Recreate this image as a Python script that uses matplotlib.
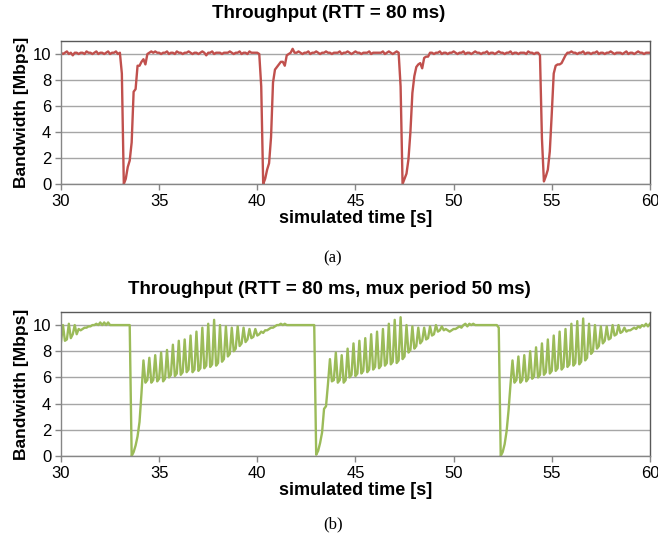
"""
plot.py - Throughput of the two RTT = 80 ms runs, (a) plain and (b) with mux period
"""

import matplotlib.pyplot as plt
import numpy as np

# Sample spacing of both traces, starting at 30 s
t_start = 30.0
t_step = 0.1

# (a) throughput in Mbps, one row per second (30.0 .. 59.9) plus the 60.0 point
bw_plain = [
    10.1, 10.0, 10.1, 10.2, 10.0, 10.1, 9.9, 10.1, 10.1, 10.0,
    10.1, 10.1, 10.0, 10.2, 10.1, 10.1, 10.0, 10.1, 10.2, 10.0,
    10.1, 10.1, 10.0, 10.1, 10.2, 10.0, 10.1, 10.1, 10.2, 10.0,
    10.1, 8.5, 0.0, 0.4, 1.3, 1.8, 3.2, 7.1, 7.3, 9.1,
    9.1, 9.4, 9.6, 9.2, 10.0, 10.1, 10.2, 10.1, 10.2, 10.1,
    10.1, 10.0, 10.1, 10.1, 10.2, 10.0, 10.1, 10.1, 10.0, 10.2,
    10.1, 10.1, 10.0, 10.1, 10.1, 10.2, 10.1, 10.0, 10.1, 10.1,
    10.0, 10.1, 10.2, 10.1, 9.9, 10.1, 10.1, 10.2, 10.0, 10.1,
    10.1, 10.1, 10.0, 10.1, 10.1, 10.1, 10.2, 10.1, 10.0, 10.1,
    10.1, 10.2, 10.0, 10.1, 10.1, 10.0, 10.2, 10.1, 10.1, 10.1,
    10.1, 10.0, 7.5, 0.0, 0.4, 1.1, 1.6, 3.6, 7.8, 8.8,
    9.0, 9.2, 9.4, 9.4, 9.1, 9.9, 10.0, 10.1, 10.4, 10.1,
    10.1, 10.2, 10.1, 10.0, 10.1, 10.1, 10.2, 10.0, 10.1, 10.1,
    10.2, 10.1, 10.0, 10.1, 10.1, 10.2, 10.1, 10.1, 10.0, 10.1,
    10.1, 10.1, 10.2, 10.0, 10.1, 10.1, 10.2, 10.1, 10.0, 10.1,
    10.2, 10.1, 10.1, 10.0, 10.1, 10.1, 10.1, 10.2, 10.0, 10.1,
    10.1, 10.1, 10.1, 10.1, 10.2, 10.0, 10.1, 10.2, 10.1, 10.0,
    10.1, 10.2, 10.1, 7.5, 0.0, 0.4, 0.8, 1.9, 4.0, 7.0,
    8.3, 9.0, 9.2, 9.3, 8.9, 9.7, 9.8, 9.8, 10.1, 10.1,
    10.0, 10.1, 10.1, 10.2, 10.0, 10.1, 10.1, 10.0, 10.1, 10.1,
    10.2, 10.1, 10.0, 10.1, 10.1, 10.2, 10.0, 10.1, 10.1, 10.0,
    10.1, 10.2, 10.1, 10.1, 10.0, 10.1, 10.1, 10.2, 10.0, 10.1,
    10.1, 10.0, 10.1, 10.2, 10.1, 10.1, 10.0, 10.1, 10.1, 10.2,
    10.0, 10.1, 10.1, 10.0, 10.1, 10.1, 10.1, 10.0, 10.2, 10.1,
    10.1, 10.0, 10.1, 10.1, 9.9, 3.5, 0.2, 0.6, 1.1, 2.5,
    5.4, 8.5, 9.1, 9.2, 9.2, 9.3, 9.6, 9.9, 10.1, 10.1,
    10.2, 10.1, 10.1, 10.0, 10.1, 10.1, 10.2, 10.0, 10.1, 10.1,
    10.0, 10.1, 10.1, 10.2, 10.0, 10.1, 10.1, 10.0, 10.1, 10.1,
    10.2, 10.1, 10.0, 10.1, 10.1, 10.1, 10.0, 10.1, 10.2, 10.0,
    10.1, 10.1, 10.0, 10.1, 10.2, 10.1, 10.1, 10.0, 10.1, 10.1,
    10.1,
]

# (b) throughput in Mbps with mux period 50 ms, same layout
bw_mux = [
    8.7, 10.0, 8.8, 8.9, 10.1, 9.0, 9.3, 10.0, 9.3, 9.7,
    9.6, 9.7, 9.8, 9.8, 9.9, 9.9, 10.0, 10.0, 10.1, 10.0,
    10.2, 10.0, 10.2, 10.0, 10.2, 10.0, 10.0, 10.0, 10.0, 10.0,
    10.0, 10.0, 10.0, 10.0, 10.0, 10.0, 0.0, 0.3, 0.8, 1.5,
    2.6, 4.8, 7.3, 5.6, 5.8, 7.5, 5.6, 5.8, 7.7, 5.7,
    5.9, 7.9, 5.7, 5.9, 8.1, 6.0, 6.2, 8.5, 6.1, 6.3,
    8.8, 6.2, 6.4, 8.9, 6.4, 6.6, 9.2, 6.4, 6.6, 9.5,
    6.5, 6.7, 9.8, 6.7, 6.9, 10.1, 6.8, 7.0, 10.4, 6.9,
    7.1, 10.0, 7.2, 7.4, 9.9, 7.6, 7.8, 9.8, 8.0, 8.2,
    9.9, 8.4, 8.6, 9.8, 8.7, 8.9, 9.7, 9.0, 9.1, 9.7,
    9.2, 9.3, 9.5, 9.4, 9.6, 9.6, 9.7, 9.8, 9.8, 9.9,
    10.0, 10.0, 10.1, 10.0, 10.1, 10.0, 10.0, 10.0, 10.0, 10.0,
    10.0, 10.0, 10.0, 10.0, 10.0, 10.0, 10.0, 10.0, 10.0, 10.0,
    0.1, 0.4, 1.0, 1.8, 3.6, 3.8, 5.5, 7.4, 5.7, 5.8,
    7.9, 5.6, 5.8, 7.7, 5.6, 5.8, 8.2, 6.0, 6.2, 8.6,
    6.1, 6.3, 8.8, 6.3, 6.5, 9.0, 6.4, 6.6, 9.3, 6.6,
    6.8, 9.5, 6.7, 6.9, 9.7, 6.9, 7.1, 10.1, 7.0, 7.2,
    10.4, 7.1, 7.3, 10.6, 7.4, 7.6, 10.0, 7.9, 8.1, 9.9,
    8.2, 8.4, 9.8, 8.6, 8.8, 9.8, 8.9, 9.0, 9.9, 9.2,
    9.3, 10.0, 9.5, 9.6, 9.9, 9.6, 9.7, 9.6, 9.5, 9.6,
    9.7, 9.7, 9.8, 9.9, 9.8, 10.0, 10.1, 9.9, 10.1, 10.0,
    10.1, 10.0, 10.0, 10.0, 10.0, 10.0, 10.0, 10.0, 10.0, 10.0,
    10.0, 10.0, 10.0, 9.8, 0.0, 0.3, 0.9, 1.9, 3.5, 5.5,
    7.3, 5.6, 5.8, 7.6, 5.6, 5.8, 7.7, 5.7, 5.9, 8.0,
    5.9, 6.1, 8.3, 6.0, 6.2, 8.6, 6.2, 6.4, 8.9, 6.3,
    6.5, 9.2, 6.5, 6.7, 9.5, 6.6, 6.8, 9.7, 6.8, 7.0,
    10.1, 6.9, 7.1, 10.3, 7.0, 7.2, 10.5, 7.3, 7.5, 10.1,
    7.8, 8.0, 10.0, 8.2, 8.4, 9.9, 8.6, 8.8, 9.9, 8.9,
    9.0, 10.0, 9.2, 9.3, 10.0, 9.4, 9.5, 9.8, 9.5, 9.6,
    9.6, 9.7, 9.8, 9.7, 9.9, 9.8, 10.0, 9.9, 10.1, 9.9,
    10.1,
]

x_ticks = [30, 35, 40, 45, 50, 55, 60]
y_ticks = [0, 2, 4, 6, 8, 10]

plt.rcParams['font.family'] = ['Liberation Sans', 'DejaVu Sans']


def style_axes(ax):
    """Excel-like look: grey grid, grey left/bottom axis, dark frame"""
    ax.set_xlim(30, 60)
    ax.set_ylim(0, 11)
    ax.set_xticks(x_ticks)
    ax.set_yticks(y_ticks)
    ax.grid(axis='y', color='#a6a6a6', linewidth=1.0)
    ax.set_axisbelow(True)
    for side in ['left', 'bottom']:
        ax.spines[side].set_color('#868686')
        ax.spines[side].set_linewidth(1.0)
    for side in ['top', 'right']:
        ax.spines[side].set_color('#595959')
        ax.spines[side].set_linewidth(1.0)
    ax.tick_params(direction='out', length=4, width=1, color='#868686',
                   labelsize=12, pad=3)
    ax.set_xlabel('simulated time [s]', fontsize=13, fontweight='bold', labelpad=1)
    ax.set_ylabel('Bandwidth [Mbps]', fontsize=12.5, fontweight='bold', labelpad=3)


fig = plt.figure(figsize=(6.58, 5.42), dpi=100)

ax_a = fig.add_axes([0.0927, 0.6605, 0.895, 0.2638])
ax_b = fig.add_axes([0.0927, 0.1587, 0.895, 0.2657])

t_a = t_start + t_step * np.arange(len(bw_plain))
t_b = t_start + t_step * np.arange(len(bw_mux))

ax_a.plot(t_a, bw_plain, color='#c0504d', linewidth=1.7)
ax_b.plot(t_b, bw_mux, color='#9bbb59', linewidth=1.7)

style_axes(ax_a)
style_axes(ax_b)

# Chart titles sit centred on the whole figure, like the Excel originals
fig.text(0.5, 1 - 14 / 542, 'Throughput (RTT = 80 ms)', ha='center', va='center',
         fontsize=13.5, fontweight='bold')
fig.text(0.5, 1 - 290 / 542, 'Throughput (RTT = 80 ms, mux period 50 ms)',
         ha='center', va='center', fontsize=13.5, fontweight='bold')

# Sub-figure captions
fig.text(0.506, 1 - 258 / 542, '(a)', ha='center', va='center',
         fontsize=12, family='Liberation Serif')
fig.text(0.506, 1 - 524 / 542, '(b)', ha='center', va='center',
         fontsize=12, family='Liberation Serif')

fig.savefig('out.png', dpi=100)
